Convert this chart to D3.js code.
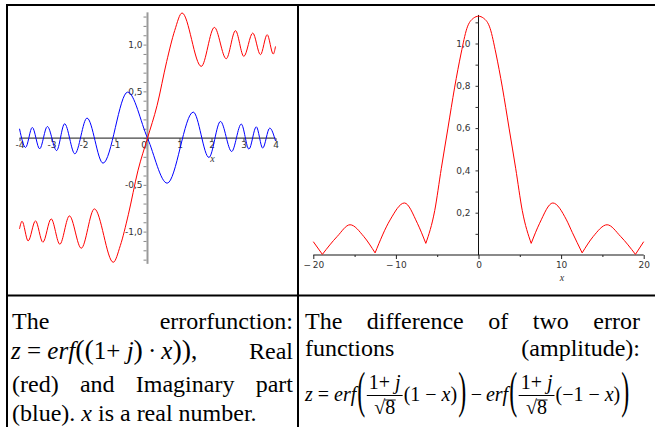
<!DOCTYPE html>
<html><head><meta charset="utf-8">
<script src="https://cdn.jsdelivr.net/npm/d3@7"></script>
<style>
html,body{margin:0;padding:0;background:#fff;}
svg{display:block;}
</style></head>
<body>
<svg id="c" width="655" height="427"></svg>
<script>
// ---------- data ----------
// Left chart: erf((1+j)x), real part (red)
const realX = [-4.0, -3.92, -3.73, -3.50, -3.27, -3.01, -2.74, -2.44, -2.07, -1.66, -1.07, -0.85, -0.6, -0.3, 0, 0.3, 0.6, 0.85, 1.08, 1.68, 2.09, 2.46, 2.75, 3.01, 3.29, 3.53, 3.74, 3.93, 4.0];
const realY = [-0.97, -0.89, -1.10, -0.885, -1.114, -0.864, -1.135, -0.832, -1.178, -0.757, -1.328, -1.15, -0.82, -0.35, 0, 0.35, 0.82, 1.15, 1.338, 0.767, 1.184, 0.849, 1.149, 0.874, 1.124, 0.892, 1.106, 0.899, 0.98];
// imaginary part (blue)
const imagX = [-4.0, -3.81, -3.60, -3.37, -3.13, -2.84, -2.59, -2.27, -1.89, -1.39, -0.62, 0, 0.615, 1.43, 1.92, 2.28, 2.63, 2.93, 3.17, 3.40, 3.60, 3.82, 4.0];
const imagY = [0.10, -0.10, 0.114, -0.115, 0.124, -0.133, 0.153, -0.168, 0.214, -0.268, 0.492, 0, -0.482, 0.278, -0.207, 0.178, -0.143, 0.15, -0.118, 0.121, -0.107, 0.107, -0.03];
// Right chart: amplitude of difference of two error functions
const diffX = [-20, -18.9, -17.1, -15.55, -13.9, -12.52, -10.7, -8.97, -7.4, -6.38, -5.3, -4.5, -3.7, -2.9, -2.1, -1.41, -0.6, 0, 0.6, 1.41, 2.1, 2.9, 3.7, 4.5, 5.3, 6.38, 7.4, 9.0, 10.65, 11.35, 12.55, 13.9, 15.57, 17.2, 19.0, 20];
const diffY = [0.063, 0.003, 0.088, 0.143, 0.088, 0.01, 0.166, 0.246, 0.15, 0.055, 0.21, 0.41, 0.6, 0.79, 0.955, 1.071, 1.12, 1.129, 1.12, 1.071, 0.955, 0.79, 0.6, 0.41, 0.21, 0.055, 0.15, 0.246, 0.166, 0.107, 0.01, 0.088, 0.143, 0.088, 0.003, 0.063];

// ticks
const leftXTicks = [-4, -3, -2, -1, 0, 1, 2, 3, 4];
const leftXLabels = ["-4", "-3", "-2", "-1", "0", "1", "2", "3", "4"];
const leftYTicks = [1.0, 0.5, -0.5, -1.0];
const leftYLabels = ["1,0", "0,5", "-0,5", "-1,0"];
const rightXTicks = [-20, -10, 0, 10, 20];
const rightXLabels = ["\u2212\u200920", "\u2212\u200910", "0", "10", "20"];
const rightXMinor = [-15, -5, 5, 15];
const rightYTicks = [0.2, 0.4, 0.6, 0.8, 1.0];
const rightYLabels = ["0,2", "0,4", "0,6", "0,8", "1,0"];

// captions
const leftLine1 = ["The", "errorfunction:"];
const leftLine3 = ["(red)", "and", "Imaginary", "part"];
const rightLine1 = ["The", "difference", "of", "two", "error"];
const rightLine2 = ["functions", "(amplitude):"];

// ---------- drawing ----------
const svg = d3.select("#c");
const SERIF = "'Liberation Serif','Times New Roman',serif";
const SANS = "'DejaVu Sans',Verdana,sans-serif";

// table borders
const border = svg.append("g").attr("stroke", "#000").attr("stroke-width", 2);
border.append("line").attr("x1", 6).attr("x2", 655).attr("y1", 5).attr("y2", 5);
border.append("line").attr("x1", 7).attr("x2", 7).attr("y1", 4).attr("y2", 427);
border.append("line").attr("x1", 298).attr("x2", 298).attr("y1", 4).attr("y2", 427);
border.append("line").attr("x1", 6).attr("x2", 655).attr("y1", 295.5).attr("y2", 295.5);

// ---- left chart ----
const xL = d3.scaleLinear().domain([-4, 4]).range([19.5, 275.5]);
const yL = d3.scaleLinear().domain([-1, 1]).range([231.6, 44.6]);
const gl = svg.append("g");

gl.append("line").attr("x1", xL(0)).attr("x2", xL(0)).attr("y1", yL(1.345)).attr("y2", yL(-1.345))
  .attr("stroke", "#9a9a9a").attr("stroke-width", 2);
const lyMinor = d3.axisLeft(yL).tickValues(d3.range(-13, 14).map(d => d / 10)).tickSize(3).tickFormat("");
gl.append("g").attr("transform", `translate(${xL(0) - 1},0)`).call(lyMinor)
  .call(g => g.select(".domain").remove())
  .call(g => g.selectAll(".tick line").attr("stroke", "#888"));
const lyAxis = d3.axisLeft(yL).tickValues(leftYTicks).tickSize(0).tickPadding(5)
  .tickFormat((d, i) => leftYLabels[i]);
gl.append("g").attr("transform", `translate(${xL(0)},0)`).call(lyAxis)
  .call(g => g.select(".domain").remove())
  .call(g => g.selectAll("text").attr("font-family", SANS).attr("font-size", 9).attr("fill", "#333"));

gl.append("line").attr("x1", xL(-4)).attr("x2", xL(4)).attr("y1", yL(0)).attr("y2", yL(0))
  .attr("stroke", "#444").attr("stroke-width", 1.3);
const lxAxis = d3.axisBottom(xL).tickValues(leftXTicks).tickSize(3).tickPadding(1)
  .tickFormat((d, i) => leftXLabels[i]);
gl.append("g").attr("transform", `translate(0,${yL(0)})`).call(lxAxis)
  .call(g => g.select(".domain").remove())
  .call(g => g.selectAll(".tick line").attr("stroke", "#444"))
  .call(g => g.selectAll("text").attr("font-family", SANS).attr("font-size", 9).attr("fill", "#333")
    .attr("dx", d => d === 0 ? -4 : 0));
gl.append("text").attr("x", xL(2) + 1).attr("y", yL(0) + 24).attr("text-anchor", "middle")
  .attr("font-family", SERIF).attr("font-style", "italic").attr("font-size", 10).attr("fill", "#333").text("x");

const lineL = d3.line().x(d => xL(d[0])).y(d => yL(d[1])).curve(d3.curveMonotoneX);
gl.append("path").datum(imagX.map((x, i) => [x, imagY[i]])).attr("d", lineL)
  .attr("fill", "none").attr("stroke", "#0000ff").attr("stroke-width", 1);
gl.append("path").datum(realX.map((x, i) => [x, realY[i]])).attr("d", lineL)
  .attr("fill", "none").attr("stroke", "#ff0000").attr("stroke-width", 1);

// ---- right chart ----
const xR = d3.scaleLinear().domain([-20, 20]).range([313.3, 643.7]);
const yR = d3.scaleLinear().domain([0, 1]).range([255, 43.5]);
const gr = svg.append("g");

gr.append("line").attr("x1", xR(-20)).attr("x2", xR(20)).attr("y1", yR(0)).attr("y2", yR(0))
  .attr("stroke", "#8a8a8a").attr("stroke-width", 2);
const rxAxis = d3.axisBottom(xR).tickValues(rightXTicks).tickSize(4).tickPadding(3)
  .tickFormat((d, i) => rightXLabels[i]);
gr.append("g").attr("transform", `translate(0,${yR(0)})`).call(rxAxis)
  .call(g => g.select(".domain").remove())
  .call(g => g.selectAll(".tick line").attr("stroke", "#222"))
  .call(g => g.selectAll("text").attr("font-family", SANS).attr("font-size", 9).attr("fill", "#333"));
const rxMinor = d3.axisBottom(xR).tickValues(rightXMinor).tickSize(2).tickFormat("");
gr.append("g").attr("transform", `translate(0,${yR(0)})`).call(rxMinor)
  .call(g => g.select(".domain").remove())
  .call(g => g.selectAll(".tick line").attr("stroke", "#222"));
gr.append("text").attr("x", xR(10) + 1).attr("y", 281).attr("text-anchor", "middle")
  .attr("font-family", SERIF).attr("font-style", "italic").attr("font-size", 10).attr("fill", "#333").text("x");

gr.append("line").attr("x1", xR(0)).attr("x2", xR(0)).attr("y1", yR(0)).attr("y2", yR(1.135))
  .attr("stroke", "#111").attr("stroke-width", 1);
const ryMinor = d3.axisLeft(yR).tickValues(d3.range(1, 12).map(d => d / 10)).tickSize(3).tickFormat("");
gr.append("g").attr("transform", `translate(${xR(0)},0)`).call(ryMinor)
  .call(g => g.select(".domain").remove())
  .call(g => g.selectAll(".tick line").attr("stroke", "#333"));
const ryAxis = d3.axisLeft(yR).tickValues(rightYTicks).tickSize(0).tickPadding(8)
  .tickFormat((d, i) => rightYLabels[i]);
gr.append("g").attr("transform", `translate(${xR(0)},0)`).call(ryAxis)
  .call(g => g.select(".domain").remove())
  .call(g => g.selectAll("text").attr("font-family", SANS).attr("font-size", 9).attr("fill", "#333"));

const pts = diffX.map((x, i) => [x, diffY[i]]);
const segs = [];
let cur = [pts[0]];
for (let i = 1; i < pts.length; i++) {
  cur.push(pts[i]);
  if (i < pts.length - 1 && pts[i][1] < pts[i - 1][1] && pts[i][1] < pts[i + 1][1]) {
    segs.push(cur); cur = [pts[i]];
  }
}
segs.push(cur);
const lineR = d3.line().x(d => xR(d[0])).y(d => yR(d[1])).curve(d3.curveMonotoneX);
gr.selectAll("path.seg").data(segs).enter().append("path").attr("class", "seg")
  .attr("d", lineR).attr("fill", "none").attr("stroke", "#ff0000").attr("stroke-width", 1);

// ---------- captions ----------
const BODY = 24;
function justify(words, x0, x1, y) {
  const nodes = words.map(w => svg.append("text").attr("y", y).attr("font-family", SERIF)
    .attr("font-size", BODY).attr("fill", "#000").text(w));
  const widths = nodes.map(n => n.node().getComputedTextLength());
  const total = d3.sum(widths);
  const gap = (x1 - x0 - total) / (words.length - 1);
  let x = x0;
  nodes.forEach((n, i) => { n.attr("x", x); x += widths[i] + gap; });
}
justify(leftLine1, 12, 293, 329);
justify(leftLine3, 12, 293, 392);
justify(rightLine1, 305, 640, 329);
justify(rightLine2, 305, 640, 356);

// left formula line
const f1 = svg.append("text").attr("x", 11).attr("y", 359).attr("font-family", SERIF)
  .attr("font-size", 25).attr("fill", "#000");
f1.append("tspan").attr("font-style", "italic").text("z");
f1.append("tspan").text(" = ");
f1.append("tspan").attr("font-style", "italic").text("erf");
f1.append("tspan").attr("font-size", 28).text("((");
f1.append("tspan").text("1+ ");
f1.append("tspan").attr("font-style", "italic").text("j");
f1.append("tspan").attr("font-size", 28).text(")");
f1.append("tspan").text("\u2009\u00b7\u2009");
f1.append("tspan").attr("font-style", "italic").text("x");
f1.append("tspan").attr("font-size", 28).text("))");
f1.append("tspan").text(",");
svg.append("text").attr("x", 293).attr("y", 359).attr("text-anchor", "end").attr("font-family", SERIF)
  .attr("font-size", BODY).text("Real");

// left last line
const l4 = svg.append("text").attr("x", 12).attr("y", 421).attr("font-family", SERIF).attr("font-size", BODY);
l4.append("tspan").text("(blue). ");
l4.append("tspan").attr("font-style", "italic").text("x");
l4.append("tspan").text(" is a real number.");

// right formula (flow layout)
const FS = 20, base = 401, axisY = 395;
let cx = 305;
function gap(n) { cx += n; }
function piece(parts, gapAfter = 0) {
  const e = svg.append("text").attr("x", cx).attr("y", base).attr("font-family", SERIF)
    .attr("font-size", FS).attr("fill", "#000");
  parts.forEach(p => {
    const ts = e.append("tspan").text(p[0]);
    if (p[1]) ts.attr("font-style", "italic");
  });
  cx += e.node().getComputedTextLength() + gapAfter;
}
function bigParen(ch) {
  const e = svg.append("text").attr("transform", `translate(${cx},${axisY + 12}) scale(1,2.1)`)
    .attr("font-family", SERIF).attr("font-size", 24).text(ch);
  cx += e.node().getComputedTextLength() + 1.5;
}
function frac() {
  const num = svg.append("text").attr("y", axisY - 6).attr("text-anchor", "middle")
    .attr("font-family", SERIF).attr("font-size", FS);
  num.append("tspan").text("1+ ");
  num.append("tspan").attr("font-style", "italic").text("j");
  const den = svg.append("text").attr("y", axisY + 19).attr("font-family", SERIF).attr("font-size", FS);
  den.append("tspan").text("\u221a");
  den.append("tspan").text("8");
  const wn = num.node().getComputedTextLength();
  const wd = den.node().getComputedTextLength();
  const w = Math.max(wn, wd) + 4;
  const mid = cx + w / 2;
  num.attr("x", mid);
  den.attr("x", mid - wd / 2);
  svg.append("line").attr("x1", cx).attr("x2", cx + w).attr("y1", axisY + 0.5).attr("y2", axisY + 0.5)
    .attr("stroke", "#000").attr("stroke-width", 1);
  const eightW = wd * 0.45;
  svg.append("line").attr("x1", mid + wd / 2 - eightW - 1).attr("x2", mid + wd / 2 + 0.5)
    .attr("y1", axisY + 5).attr("y2", axisY + 5).attr("stroke", "#000").attr("stroke-width", 0.9);
  cx += w + 1;
}
piece([["z", true]], 5);
piece([["="]], 5);
piece([["erf", true]], 1);
bigParen("(");
frac();
piece([["(1 \u2212 "], ["x", true], [")"]], 1);
bigParen(")");
gap(3);
piece([["\u2212"]], 4);
piece([["erf", true]], 1);
bigParen("(");
frac();
piece([["(\u22121 \u2212 "], ["x", true], [")"]], 1);
bigParen(")");
</script>
</body></html>
